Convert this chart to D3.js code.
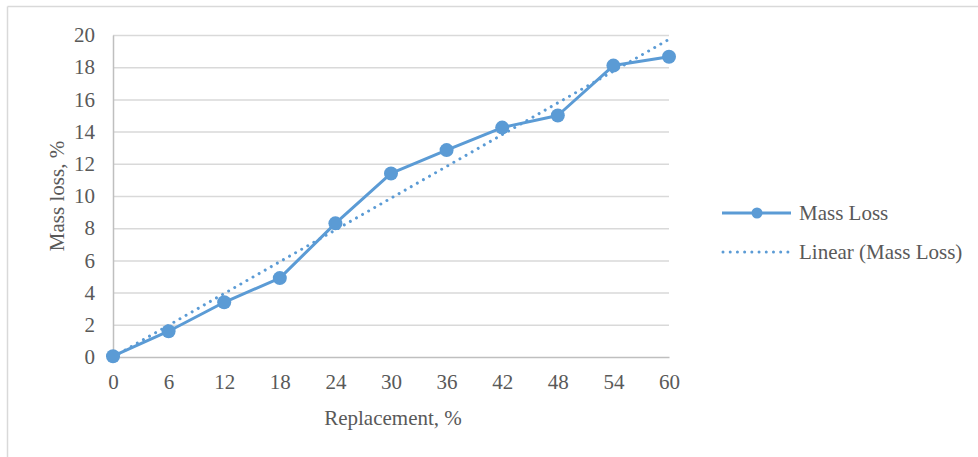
<!DOCTYPE html>
<html><head><meta charset="utf-8">
<script src="https://cdn.jsdelivr.net/npm/d3@7"></script>
<style>body{margin:0;background:#fff}svg{display:block}</style>
</head><body>
<svg id="c" width="978" height="457"></svg>
<script>
const replacement = [0, 6, 12, 18, 24, 30, 36, 42, 48, 54, 60];
const massLoss = [0.05, 1.6, 3.4, 4.9, 8.3, 11.4, 12.85, 14.25, 15.0, 18.1, 18.65];
const yTicks = [0, 2, 4, 6, 8, 10, 12, 14, 16, 18, 20];
const seriesNames = ["Mass Loss", "Linear (Mass Loss)"];
const xTitle = "Replacement, %";
const yTitle = "Mass loss, %";

const svg = d3.select("#c");
const font = "'Liberation Serif','Times New Roman',serif";
const fs = 21;
const txt = "#595959";
const blue = "#5b9bd5";

// outer frame
svg.append("line").attr("x1",7.5).attr("y1",6.5).attr("x2",978).attr("y2",6.5).attr("stroke","#d9d9d9").attr("stroke-width",1.5);
svg.append("line").attr("x1",7.5).attr("y1",6.5).attr("x2",7.5).attr("y2",457).attr("stroke","#d9d9d9").attr("stroke-width",1.5);

const x = d3.scaleLinear().domain([0,60]).range([113,669]);
const y = d3.scaleLinear().domain([0,20]).range([357,35]);

// gridlines
const grid = svg.append("g").attr("transform","translate(113,0)")
  .call(d3.axisLeft(y).tickValues(yTicks.filter(v=>v>0)).tickSize(-(669-113)).tickFormat(""));
grid.select(".domain").remove();
grid.selectAll("line").attr("stroke","#d9d9d9").attr("stroke-width",1.5);

// y axis
const ya = svg.append("g").attr("transform","translate(113,0)")
  .call(d3.axisLeft(y).tickValues(yTicks).tickSize(0).tickPadding(18).tickFormat(d3.format("d")));
ya.select(".domain").attr("stroke","#bfbfbf").attr("stroke-width",1.5);
ya.selectAll("text").attr("font-family",font).attr("font-size",fs).attr("fill",txt);

// x axis
const xa = svg.append("g").attr("transform","translate(0,357)")
  .call(d3.axisBottom(x).tickValues(replacement).tickSize(0).tickPadding(17).tickFormat(d3.format("d")));
xa.select(".domain").attr("stroke","#bfbfbf").attr("stroke-width",1.5);
xa.selectAll("text").attr("font-family",font).attr("font-size",fs).attr("fill",txt);

// titles
svg.append("text").attr("x",393).attr("y",425).attr("text-anchor","middle")
  .attr("font-family",font).attr("font-size",fs).attr("fill",txt).text(xTitle);
svg.append("text").attr("transform","translate(64,196) rotate(-90)").attr("text-anchor","middle")
  .attr("font-family",font).attr("font-size",fs).attr("fill",txt).text(yTitle);

// trendline (least squares)
const mx = d3.mean(replacement), my = d3.mean(massLoss);
const slope = d3.sum(replacement,(v,i)=>(v-mx)*(massLoss[i]-my))/d3.sum(replacement,v=>(v-mx)*(v-mx));
const icpt = my - slope*mx;
const trend = [0,60].map(v=>[v, icpt+slope*v]);
svg.append("path").datum(trend)
  .attr("d", d3.line().x(d=>x(d[0])).y(d=>y(d[1])))
  .attr("fill","none").attr("stroke",blue).attr("stroke-width",3)
  .attr("stroke-linecap","round").attr("stroke-dasharray","0.01 7");

// series
const pts = replacement.map((v,i)=>[v,massLoss[i]]);
svg.append("path").datum(pts)
  .attr("d", d3.line().x(d=>x(d[0])).y(d=>y(d[1])))
  .attr("fill","none").attr("stroke",blue).attr("stroke-width",3).attr("stroke-linejoin","round");
svg.append("g").selectAll("circle").data(pts).join("circle")
  .attr("cx",d=>x(d[0])).attr("cy",d=>y(d[1])).attr("r",7).attr("fill",blue);

// legend
const lg = svg.append("g");
lg.append("line").attr("x1",722).attr("x2",791).attr("y1",213).attr("y2",213).attr("stroke",blue).attr("stroke-width",3);
lg.append("circle").attr("cx",757).attr("cy",213).attr("r",5.5).attr("fill",blue);
lg.append("text").attr("x",799).attr("y",213).attr("dy","0.35em").attr("font-family",font).attr("font-size",fs).attr("fill",txt).text(seriesNames[0]);
lg.append("line").attr("x1",723).attr("x2",789).attr("y1",252).attr("y2",252).attr("stroke",blue).attr("stroke-width",3)
  .attr("stroke-linecap","round").attr("stroke-dasharray","0.01 7.2");
lg.append("text").attr("x",799).attr("y",252).attr("dy","0.35em").attr("font-family",font).attr("font-size",fs).attr("fill",txt).text(seriesNames[1]);
</script>
</body></html>
